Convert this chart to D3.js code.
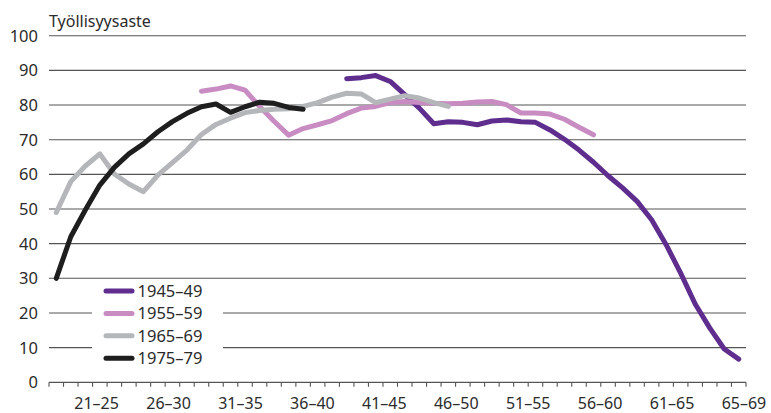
<!DOCTYPE html>
<html>
<head>
<meta charset="utf-8">
<script src="https://cdn.jsdelivr.net/npm/d3@7"></script>
<style>
  html, body { margin: 0; padding: 0; background: #fff; }
  svg { display: block; }
  text { font-family: "Noto Sans", "Open Sans", sans-serif; fill: #2b2b2b; }
</style>
</head>
<body>
<div id="chart"></div>
<script>
// ---- data ----
const categories = [18,19,20,21,22,23,24,25,26,27,28,29,30,31,32,33,34,35,36,37,38,39,40,41,
                    42,43,44,45,46,47,48,49,50,51,52,53,54,55,56,57,58,59,60,61,62,63,64,65];
const tickLabels = ["21–25","26–30","31–35","36–40","41–45","46–50","51–55","56–60","61–65","65–69"];
const yTicks = [0,10,20,30,40,50,60,70,80,90,100];
const seriesNames = ["1945–49","1955–59","1965–69","1975–79"];
const seriesStart = [38, 28, 18, 18]; // first category (age) of each cohort
const s1945 = [87.6,87.9,88.5,86.8,83.0,79.1,74.6,75.2,75.0,74.3,75.4,75.7,75.2,75.0,72.8,70.1,67.0,63.5,59.6,56.1,52.2,46.9,39.7,31.5,22.6,15.7,9.6,6.7];
const s1955 = [84.0,84.6,85.5,84.3,79.6,75.3,71.3,73.2,74.3,75.5,77.5,79.1,79.6,80.7,81.0,80.7,80.5,80.4,80.5,80.9,81.0,80.1,77.7,77.7,77.4,75.9,73.6,71.4];
const s1965 = [49.0,57.9,62.4,65.9,60.1,57.2,55.0,59.8,63.4,67.0,71.5,74.4,76.2,77.8,78.4,78.8,78.9,79.6,80.7,82.3,83.4,83.2,80.7,81.7,82.7,82.0,80.7,79.6];
const s1975 = [30.0,42.0,49.7,56.9,62.0,65.9,68.8,72.3,75.2,77.6,79.5,80.3,77.9,79.5,80.8,80.5,79.3,78.8];
const seriesValues = [s1945, s1955, s1965, s1975];
const colors = ["#5f2d8e", "#c88cc3", "#b4b6b9", "#1e1e1e"];

// ---- layout ----
const W = 771, H = 413;
const svg = d3.select("#chart").append("svg").attr("width", W).attr("height", H);

const x = d3.scaleLinear()
  .domain([categories[0], categories[categories.length - 1] + 1])
  .range([49, 746]);
const xc = a => x(a + 0.5);
const y = d3.scaleLinear().domain([0, 100]).range([382.3, 35.7]);

// gridlines
svg.append("g").selectAll("line")
  .data(yTicks.filter(d => d > 0))
  .join("line")
  .attr("x1", x.range()[0]).attr("x2", x.range()[1])
  .attr("y1", d => y(d)).attr("y2", d => y(d))
  .attr("stroke", "#555").attr("stroke-width", 1.1);

// y labels
svg.append("g").selectAll("text")
  .data(yTicks)
  .join("text")
  .attr("x", 38).attr("y", d => y(d)).attr("dy", "0.36em")
  .attr("text-anchor", "end")
  .style("font-size", "16.5px")
  .text(d => d);

// title
svg.append("text").attr("x", 49).attr("y", 27)
  .style("font-size", "16px").text("Työllisyysaste");

// x axis line + ticks
svg.append("line")
  .attr("x1", x.range()[0]).attr("x2", x.range()[1])
  .attr("y1", y(0)).attr("y2", y(0))
  .attr("stroke", "#555").attr("stroke-width", 1.2);
const boundaries = categories.concat([categories[categories.length - 1] + 1]);
svg.append("g").selectAll("line")
  .data(boundaries)
  .join("line")
  .attr("x1", d => x(d)).attr("x2", d => x(d))
  .attr("y1", y(0)).attr("y2", y(0) + 4.5)
  .attr("stroke", "#555").attr("stroke-width", 1.1);

// x labels
const xl = d3.scalePoint().domain(tickLabels).range([x(21.28), x(65.86)]);
svg.append("g").selectAll("text")
  .data(tickLabels)
  .join("text")
  .attr("x", d => xl(d)).attr("y", 408.5)
  .attr("text-anchor", "middle")
  .style("font-size", "16px")
  .text(d => d);

// legend background (covers gridlines)
const lg = svg.append("g");
lg.append("rect").attr("x", 92).attr("y", 281).attr("width", 131).attr("height", 88).attr("fill", "#fff");

// series lines
const line = d3.line()
  .x(d => xc(d.a))
  .y(d => y(d.v));
seriesValues.forEach((vals, k) => {
  const pts = vals.map((v, i) => ({ a: seriesStart[k] + i, v }));
  svg.append("path")
    .datum(pts)
    .attr("d", line)
    .attr("fill", "none")
    .attr("stroke", colors[k])
    .attr("stroke-width", 5)
    .attr("stroke-linejoin", "round")
    .attr("stroke-linecap", "round");
});

// legend entries
const rowY = d3.scalePoint().domain(seriesNames).range([291, 358.3]);
seriesNames.forEach((name, k) => {
  lg.append("line")
    .attr("x1", 106).attr("x2", 132)
    .attr("y1", rowY(name)).attr("y2", rowY(name))
    .attr("stroke", colors[k]).attr("stroke-width", 5)
    .attr("stroke-linecap", "round");
  lg.append("text")
    .attr("x", 137.5).attr("y", rowY(name)).attr("dy", "0.36em")
    .style("font-size", "16.5px")
    .text(name);
});
</script>
</body>
</html>
